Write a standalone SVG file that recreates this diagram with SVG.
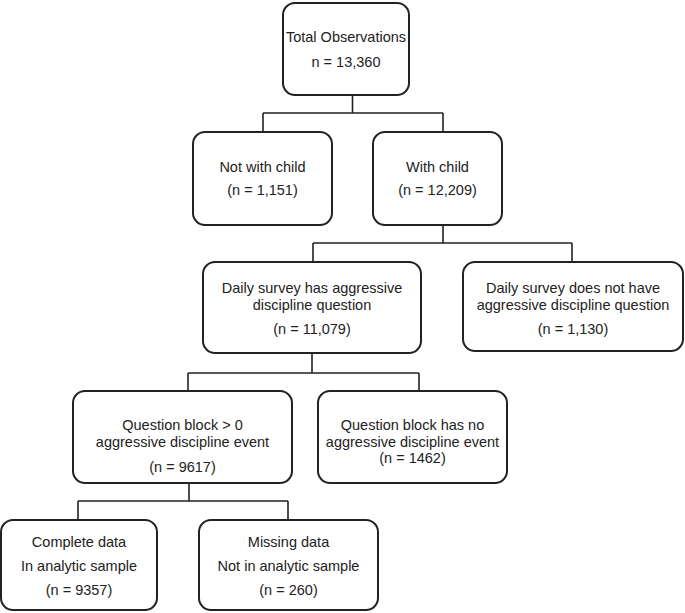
<svg xmlns="http://www.w3.org/2000/svg" width="685" height="613" viewBox="0 0 685 613">
<style>
.box{fill:#fff;stroke:#222;stroke-width:2}
.ln{fill:none;stroke:#222;stroke-width:1.6}
text{font-family:"Liberation Sans",Arial,sans-serif;font-size:14.5px;fill:#222;text-anchor:middle}
</style>
<rect width="685" height="613" fill="#fff"/>
<g id="connectors">
<path class="ln" d="M352.5 95V113M263 113H443M263 113V132M443 113V132"/>
<path class="ln" d="M443 225V243M313 243H572M313 243V262M572 243V262"/>
<path class="ln" d="M312 353V373M188 373H419M188 373V391M419 373V391"/>
<path class="ln" d="M189 483V501M78 501H288M78 501V520M288 501V520"/>
</g>
<g id="total">
<rect class="box" x="283" y="3" width="126" height="92" rx="12"/>
<text x="346" y="42">Total Observations</text>
<text x="346" y="67">n = 13,360</text>
</g>
<g id="notchild">
<rect class="box" x="193" y="132" width="139" height="93" rx="12"/>
<text x="262.5" y="172">Not with child</text>
<text x="262.5" y="195">(n = 1,151)</text>
</g>
<g id="withchild">
<rect class="box" x="373" y="132" width="129" height="93" rx="12"/>
<text x="437.5" y="172">With child</text>
<text x="437.5" y="195">(n = 12,209)</text>
</g>
<g id="hasq">
<rect class="box" x="203" y="262" width="218" height="91" rx="12"/>
<text x="312" y="293">Daily survey has aggressive</text>
<text x="312" y="310">discipline question</text>
<text x="312" y="334">(n = 11,079)</text>
</g>
<g id="noq">
<rect class="box" x="463" y="262" width="220" height="89" rx="12"/>
<text x="573" y="293">Daily survey does not have</text>
<text x="573" y="310">aggressive discipline question</text>
<text x="573" y="334">(n = 1,130)</text>
</g>
<g id="event">
<rect class="box" x="73" y="391" width="219" height="92" rx="12"/>
<text x="182.5" y="430">Question block &gt; 0</text>
<text x="182.5" y="447">aggressive discipline event</text>
<text x="182.5" y="472">(n = 9617)</text>
</g>
<g id="noevent">
<rect class="box" x="318" y="391" width="189" height="92" rx="12"/>
<text x="412.5" y="430">Question block has no</text>
<text x="412.5" y="447">aggressive discipline event</text>
<text x="412.5" y="463">(n = 1462)</text>
</g>
<g id="complete">
<rect class="box" x="1" y="520" width="156" height="90" rx="12"/>
<text x="79" y="547">Complete data</text>
<text x="79" y="571">In analytic sample</text>
<text x="79" y="595">(n = 9357)</text>
</g>
<g id="missing">
<rect class="box" x="199" y="520" width="179" height="90" rx="12"/>
<text x="288.5" y="547">Missing data</text>
<text x="288.5" y="571">Not in analytic sample</text>
<text x="288.5" y="595">(n = 260)</text>
</g>
</svg>
